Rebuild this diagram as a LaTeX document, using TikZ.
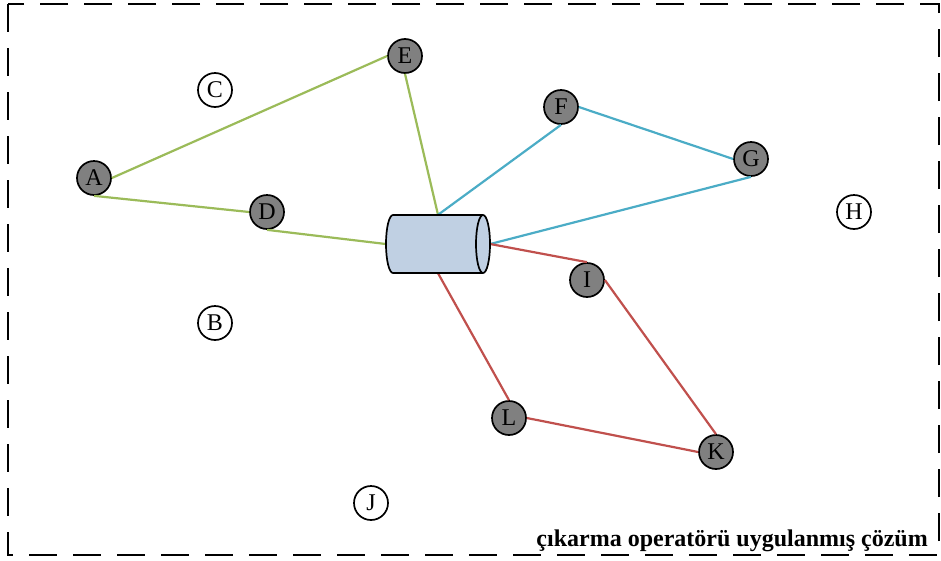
\documentclass[tikz,border=0pt]{standalone}
\usepackage{fontspec}
\setmainfont{Liberation Serif}
\definecolor{cgreen}{RGB}{155,187,89}
\definecolor{cblue}{RGB}{75,172,198}
\definecolor{cred}{RGB}{192,80,77}
\definecolor{cfill}{RGB}{128,128,128}
\definecolor{cyl}{RGB}{192,208,227}
\begin{document}
\begin{tikzpicture}[x=1pt,y=-1pt,
  full/.style={circle,draw=black,line width=1.7pt,fill=cfill,minimum size=34pt,inner sep=0pt,font=\fontsize{24}{24}\selectfont},
  empty/.style={circle,draw=black,line width=1.7pt,fill=white,minimum size=34pt,inner sep=0pt,font=\fontsize{24}{24}\selectfont},
  gline/.style={cgreen,line width=2.2pt},
  bline/.style={cblue,line width=2.2pt},
  rline/.style={cred,line width=2.2pt}]
\useasboundingbox (0,0) rectangle (941,560);
\draw[line width=2pt,dash pattern=on 28pt off 16pt] (8,4) rectangle (939,555);
\node[rectangle,draw=none,minimum width=104pt,minimum height=58pt,inner sep=0pt] (db) at (438,244) {};
\node[full] (E) at (405,56) {E};
\node[empty] (C) at (215,90) {C};
\node[full] (F) at (561,107) {F};
\node[full] (G) at (751,159) {G};
\node[full] (A) at (94,178) {A};
\node[full] (D) at (267,212) {D};
\node[empty] (H) at (854,212) {H};
\node[full] (I) at (587,280) {I};
\node[empty] (B) at (215,323) {B};
\node[full] (L) at (509,418) {L};
\node[full] (K) at (716,452) {K};
\node[empty] (J) at (371,503) {J};
\draw[gline] (A.east) -- (E.west);
\draw[gline] (A.south) -- (D.west);
\draw[gline] (D.south) -- (db.west);
\draw[gline] (E.south) -- (db.north);
\draw[bline] (F.south) -- (db.north);
\draw[bline] (F.east) -- (G.west);
\draw[bline] (G.south) -- (db.east);
\draw[rline] (db.east) -- (I.north);
\draw[rline] (I.east) -- (K.north);
\draw[rline] (db.south) -- (L.north);
\draw[rline] (L.east) -- (K.west);
\draw[black,line width=1.7pt,fill=cyl] (393,215) -- (483,215)
  arc[start angle=-90,end angle=90,x radius=7,y radius=29]
  -- (393,273) arc[start angle=90,end angle=270,x radius=7,y radius=29] -- cycle;
\draw[black,line width=1.7pt] (483,215) arc[start angle=-90,end angle=-270,x radius=7,y radius=29];
\node[anchor=base east,font=\fontsize{24}{24}\selectfont\bfseries,inner sep=0pt] (lbl) at (928,546) {çıkarma operatörü uygulanmış çözüm};
\end{tikzpicture}
\end{document}
